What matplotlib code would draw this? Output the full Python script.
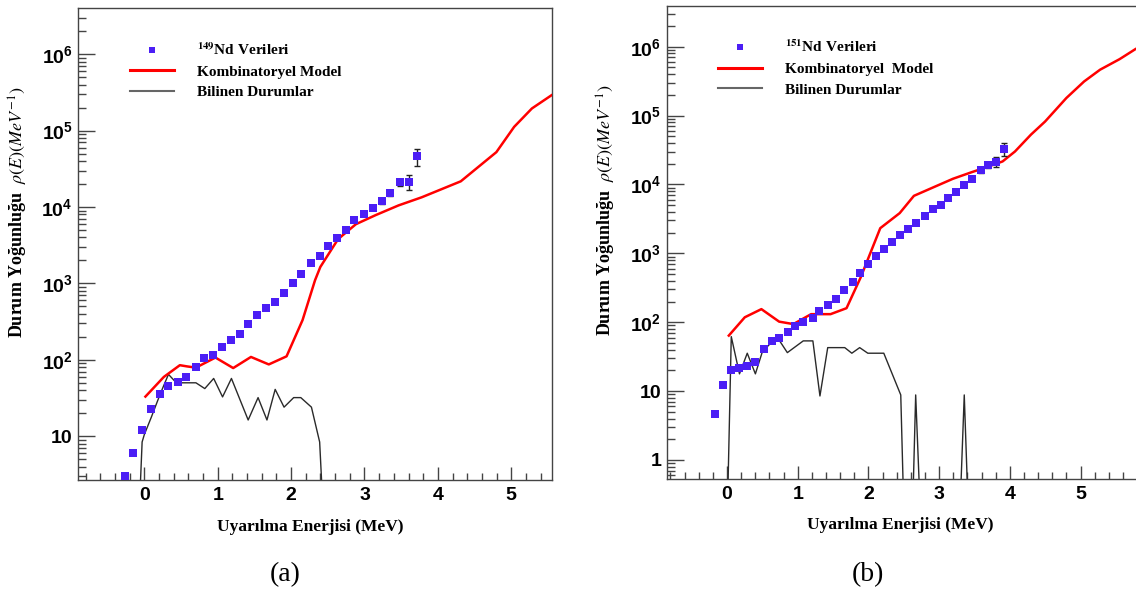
import matplotlib
matplotlib.use('Agg')
import matplotlib.pyplot as plt
from matplotlib.ticker import FixedLocator, FixedFormatter, MultipleLocator, LogLocator, NullFormatter
from matplotlib.font_manager import FontProperties

plt.rcParams['mathtext.fontset'] = 'custom'
plt.rcParams['mathtext.rm'] = 'Liberation Sans:bold'
plt.rcParams['mathtext.bf'] = 'Liberation Sans:bold'
plt.rcParams['mathtext.it'] = 'Liberation Sans:bold:italic'

# ---------------- Panel (a): 149Nd ----------------
a_data_E = [-0.27, -0.16, -0.034, 0.097, 0.208, 0.329, 0.455, 0.567, 0.698, 0.819,
            0.940, 1.056, 1.177, 1.303, 1.415, 1.541, 1.662, 1.783, 1.904, 2.025,
            2.141, 2.267, 2.393, 2.50, 2.621, 2.747, 2.863, 2.989, 3.11, 3.236,
            3.353, 3.479, 3.60, 3.71]
a_data_rho = [3.0, 6.1, 12.1, 22.6, 35.5, 45, 51.4, 59.7, 81.6, 105,
              117, 148, 182, 219, 290, 384, 474, 573, 751, 1016,
              1318, 1835, 2270, 3070, 3980, 5070, 6710, 8130, 9760, 12000,
              15300, 21300, 21300, 46200]
a_data_err = [0, 0, 0, 0, 0, 0, 0, 0, 0, 0,
              0, 0, 0, 0, 0, 0, 0, 0, 0, 0,
              0, 0, 0, 0, 0, 0, 0, 300, 700, 900,
              1300, 2300, 4800, 12000]

a_model_E = [0.015, 0.266, 0.484, 0.581, 0.703, 0.969, 1.211, 1.453, 1.696, 1.938,
             2.156, 2.326, 2.398, 2.64, 2.883, 3.149, 3.464, 3.779, 4.312, 4.797,
             5.039, 5.281, 5.547]
a_model_rho = [33, 59.7, 85, 82, 79, 107, 78, 109, 87, 111,
               331, 1100, 1640, 3800, 5960, 7810, 10500, 13400, 21700, 52300,
               112000, 195000, 290000]

a_known_E = [-0.07, -0.03, 0.0, 0.097, 0.218, 0.329, 0.436, 0.703, 0.824, 0.945,
             1.066, 1.187, 1.415, 1.55, 1.671, 1.783, 1.904, 2.035, 2.132, 2.277,
             2.389, 2.437]
a_known_rho = [1, 8.4, 10.5, 17.9, 36, 64.5, 50, 50, 42, 57,
               32.7, 57, 16.3, 32, 16.3, 41, 24, 32, 32, 24,
               8.4, 1]

# ---------------- Panel (b): 151Nd ----------------
b_data_E = [-0.176, -0.050, 0.060, 0.176, 0.286, 0.401, 0.517, 0.637, 0.737, 0.858,
            0.968, 1.078, 1.209, 1.299, 1.424, 1.540, 1.655, 1.775, 1.876, 1.991,
            2.101, 2.222, 2.337, 2.452, 2.558, 2.668, 2.793, 2.909, 3.024, 3.124,
            3.235, 3.350, 3.470, 3.586, 3.696, 3.806, 3.917]
b_data_rho = [4.7, 12.3, 20.1, 21.9, 23, 26.3, 41, 53.6, 59, 72.4,
              89, 102, 114, 146, 178, 218, 290, 380, 515, 703,
              920, 1175, 1455, 1840, 2240, 2800, 3500, 4390, 5010, 6310,
              7900, 9890, 11970, 16300, 19300, 21400, 32700]
b_data_err = [0, 0, 0, 0, 0, 0, 0, 0, 0, 0,
              0, 0, 0, 0, 0, 0, 0, 0, 0, 0,
              0, 0, 0, 0, 0, 0, 0, 0, 0, 0,
              0, 0, 900, 1500, 2000, 3500, 7000]

b_model_E = [0.025, 0.251, 0.486, 0.737, 0.938, 1.189, 1.464, 1.690, 1.891, 2.167,
             2.442, 2.643, 2.944, 3.195, 3.445, 3.696, 3.897, 4.072, 4.298, 4.498,
             4.799, 5.05, 5.276, 5.552, 5.777, 5.95]
b_model_rho = [64, 118, 155, 102, 94, 131, 131, 160, 450, 2320,
               3840, 6840, 9340, 12100, 14900, 18200, 21600, 30100, 52900, 82000,
               180000, 313000, 464000, 660000, 925000, 1150000]

b_known_E = [0.0, 0.06, 0.176, 0.286, 0.401, 0.50, 0.637, 0.737, 0.853, 1.078,
             1.214, 1.314, 1.424, 1.665, 1.765, 1.876, 1.991, 2.217, 2.457, 2.507,
             2.618, 2.668, 2.743, 3.285, 3.355, 3.420]
b_known_rho = [0.1, 61.8, 17.8, 35.5, 17.8, 37.4, 52, 55, 36.2, 53.6,
               53.6, 8.5, 42.8, 42.8, 35.5, 42.8, 35.5, 35.5, 8.8, 0.1,
               0.1, 8.8, 0.1, 0.1, 8.8, 0.1]

# ---------------- Ticks / labels ----------------
xtick_vals = [0, 1, 2, 3, 4, 5]
xtick_labels = ['0', '1', '2', '3', '4', '5']
a_ytick_vals = [10, 1e2, 1e3, 1e4, 1e5, 1e6]
a_ytick_labels = ['10', '$10^{2}$', '$10^{3}$', '$10^{4}$', '$10^{5}$', '$10^{6}$']
b_ytick_vals = [1, 10, 1e2, 1e3, 1e4, 1e5, 1e6]
b_ytick_labels = ['1', '10', '$10^{2}$', '$10^{3}$', '$10^{4}$', '$10^{5}$', '$10^{6}$']

a_legend = [r'$^{\mathbf{149}}$Nd Verileri', 'Kombinatoryel Model', 'Bilinen Durumlar']
b_legend = [r'$^{\mathbf{151}}$Nd Verileri', 'Kombinatoryel  Model', 'Bilinen Durumlar']

xlabel = 'Uyarılma Enerjisi (MeV)'
ylabel = r'Durum Yoğunluğu  $\rho(E)(MeV^{-1})$'

MARKER_C = '#4b1ef5'
RED = '#ff0000'
KNOWN_C = '#2a2a2a'
FRAME_C = '#444444'

fig = plt.figure(figsize=(11.36, 5.94), dpi=100)
axA = fig.add_axes([0.0689, 0.1919, 0.4167, 0.7941])
axB = fig.add_axes([0.5869, 0.1941, 0.4202, 0.7963])


def draw(ax, dE, drho, derr, mE, mrho, kE, krho, yvals, ylabs, xlim, ylim, leg_labels, leg_anchor):
    ax.set_yscale('log')
    kl, = ax.plot(kE, krho, color=KNOWN_C, lw=1.0, zorder=2)
    ml, = ax.plot(mE, mrho, color=RED, lw=1.8, zorder=3)
    ax.errorbar(dE, drho, yerr=derr, fmt='none', ecolor='#222222', elinewidth=1.0,
                capsize=2.5, capthick=1.0, zorder=4)
    dl, = ax.plot(dE, drho, 's', color=MARKER_C, ms=6.2, mew=0, zorder=5)
    ax.set_xlim(*xlim)
    ax.set_ylim(*ylim)

    ax.xaxis.set_major_locator(FixedLocator(xtick_vals))
    ax.xaxis.set_major_formatter(FixedFormatter(xtick_labels))
    ax.xaxis.set_minor_locator(MultipleLocator(0.2))
    ax.yaxis.set_major_locator(FixedLocator(yvals))
    ax.yaxis.set_major_formatter(FixedFormatter(ylabs))
    ax.yaxis.set_minor_locator(LogLocator(base=10, subs=[2, 3, 4, 5, 6, 7, 8, 9], numticks=20))
    ax.yaxis.set_minor_formatter(NullFormatter())

    ax.tick_params(axis='both', which='both', direction='in', top=False, right=False,
                   color=FRAME_C, width=1.0)
    ax.tick_params(axis='x', which='major', length=9.5, pad=5, labelsize=14)
    ax.tick_params(axis='x', which='minor', length=5)
    ax.tick_params(axis='y', which='major', length=12, pad=4, labelsize=14)
    ax.tick_params(axis='y', which='minor', length=6)
    for lab in ax.get_xticklabels() + ax.get_yticklabels():
        lab.set_fontfamily('Liberation Sans')
        lab.set_fontweight('bold')
    for sp in ax.spines.values():
        sp.set_color(FRAME_C)
        sp.set_linewidth(1.0)

    ax.set_xlabel(xlabel, fontfamily='Liberation Serif', fontweight='bold', fontsize=12.5)
    ax.xaxis.set_label_coords(0.49, -0.082)
    ax.set_ylabel(ylabel, fontfamily='Liberation Serif', fontweight='bold', fontsize=13,
                  math_fontfamily='stix')
    ax.yaxis.set_label_coords(-0.102, 0.568)

    lprop = FontProperties(family='Liberation Serif', weight='bold', size=11,
                           math_fontfamily='stix')
    leg = ax.legend([dl, ml, kl], leg_labels, loc='upper left', bbox_to_anchor=leg_anchor,
                    frameon=False, prop=lprop, handlelength=2.9, handletextpad=1.5,
                    labelspacing=0.45, borderpad=0, borderaxespad=0, markerscale=0.8)
    leg.legend_handles[2].set_color('#666666')
    leg.legend_handles[2].set_linewidth(1.5)
    leg.legend_handles[1].set_linewidth(2.2)
    return leg


draw(axA, a_data_E, a_data_rho, a_data_err, a_model_E, a_model_rho, a_known_E, a_known_rho,
     a_ytick_vals, a_ytick_labels, (-0.9, 5.55), (2.67, 3.99e6), a_legend, (0.109, 0.93))
draw(axB, b_data_E, b_data_rho, b_data_err, b_model_E, b_model_rho, b_known_E, b_known_rho,
     b_ytick_vals, b_ytick_labels, (-0.853, 5.898), (0.535, 3.94e6), b_legend, (0.1075, 0.93))

fig.text(285 / 1136, 1 - 575 / 594, '(a)', ha='center', va='center',
         fontfamily='Liberation Serif', fontsize=20)
fig.text(868 / 1136, 1 - 575 / 594, '(b)', ha='center', va='center',
         fontfamily='Liberation Serif', fontsize=20)

fig.savefig('out.png', dpi=100)
